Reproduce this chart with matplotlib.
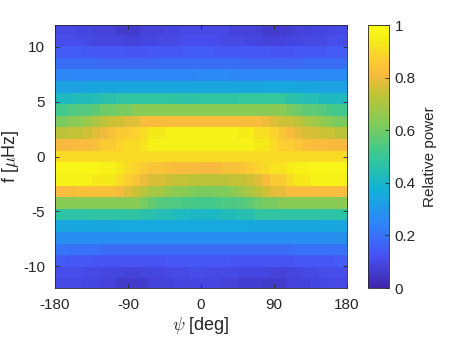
import numpy as np
import matplotlib.pyplot as plt
from matplotlib.colors import LinearSegmentedColormap

plt.rcParams['font.family'] = ['Liberation Sans', 'DejaVu Sans']
plt.rcParams['axes.unicode_minus'] = False
plt.rcParams['mathtext.fontset'] = 'cm'

# grid of the map: azimuth psi (deg) and frequency f (muHz), cell centres
psi_deg = [-180, -170, -160, -150, -140, -130, -120, -110, -100, -90, -80, -70, -60,
           -50, -40, -30, -20, -10, 0, 10, 20, 30, 40, 50, 60, 70, 80, 90, 100,
           110, 120, 130, 140, 150, 160, 170, 180]
f_uHz = [-11.66, -10.60, -9.54, -8.48, -7.42, -6.36, -5.30, -4.24, -3.18, -2.12, -1.06, 0.0,
         1.06, 2.12, 3.18, 4.24, 5.30, 6.36, 7.42, 8.48, 9.54, 10.60, 11.66]

# relative power, one row per frequency (top row first)
row_p11 = [0.10, 0.10, 0.10, 0.09, 0.09, 0.08, 0.08, 0.08, 0.06, 0.06, 0.06, 0.08, 0.08, 0.08, 0.09, 0.09, 0.10, 0.10, 0.10,
           0.10, 0.10, 0.10, 0.08, 0.08, 0.08, 0.08, 0.06, 0.06, 0.06, 0.07, 0.08, 0.08, 0.09, 0.09, 0.09, 0.10, 0.10]
row_p10 = [0.11, 0.11, 0.11, 0.11, 0.10, 0.09, 0.09, 0.09, 0.09, 0.08, 0.08, 0.09, 0.09, 0.10, 0.10, 0.10, 0.11, 0.11, 0.11,
           0.11, 0.11, 0.10, 0.10, 0.10, 0.09, 0.09, 0.08, 0.08, 0.08, 0.09, 0.09, 0.10, 0.10, 0.10, 0.11, 0.11, 0.11]
row_p9 = [0.15, 0.15, 0.15, 0.15, 0.14, 0.14, 0.14, 0.14, 0.14, 0.13, 0.13, 0.13, 0.14, 0.14, 0.14, 0.14, 0.15, 0.15, 0.15,
          0.15, 0.14, 0.14, 0.14, 0.14, 0.14, 0.14, 0.14, 0.13, 0.13, 0.13, 0.14, 0.14, 0.14, 0.14, 0.15, 0.15, 0.15]
row_p8 = [0.19, 0.19, 0.19, 0.19, 0.19, 0.19, 0.18, 0.18, 0.18, 0.18, 0.18, 0.18, 0.18, 0.19, 0.19, 0.19, 0.19, 0.19, 0.19,
          0.19, 0.19, 0.19, 0.19, 0.19, 0.18, 0.18, 0.18, 0.18, 0.18, 0.18, 0.18, 0.19, 0.19, 0.19, 0.19, 0.19, 0.19]
row_p7 = [0.25, 0.25, 0.25, 0.25, 0.25, 0.25, 0.25, 0.25, 0.25, 0.25, 0.25, 0.25, 0.25, 0.25, 0.25, 0.25, 0.25, 0.25, 0.26,
          0.26, 0.26, 0.26, 0.25, 0.25, 0.25, 0.25, 0.25, 0.25, 0.25, 0.25, 0.25, 0.25, 0.25, 0.26, 0.26, 0.26, 0.26]
row_p6 = [0.33, 0.33, 0.33, 0.33, 0.34, 0.34, 0.34, 0.34, 0.34, 0.34, 0.34, 0.34, 0.34, 0.34, 0.34, 0.34, 0.34, 0.34, 0.34,
          0.34, 0.34, 0.34, 0.34, 0.34, 0.34, 0.34, 0.35, 0.35, 0.35, 0.35, 0.34, 0.34, 0.34, 0.33, 0.33, 0.33, 0.33]
row_p5 = [0.42, 0.42, 0.42, 0.43, 0.43, 0.44, 0.46, 0.46, 0.48, 0.48, 0.48, 0.48, 0.48, 0.48, 0.48, 0.47, 0.47, 0.47, 0.48,
          0.48, 0.48, 0.48, 0.48, 0.49, 0.49, 0.49, 0.49, 0.49, 0.49, 0.46, 0.46, 0.44, 0.44, 0.42, 0.42, 0.42, 0.42]
row_p4 = [0.52, 0.52, 0.54, 0.55, 0.55, 0.57, 0.59, 0.59, 0.61, 0.61, 0.64, 0.64, 0.64, 0.64, 0.64, 0.64, 0.64, 0.64, 0.64,
          0.64, 0.64, 0.64, 0.64, 0.64, 0.64, 0.64, 0.64, 0.64, 0.64, 0.61, 0.59, 0.57, 0.57, 0.55, 0.53, 0.52, 0.52]
row_p3 = [0.61, 0.61, 0.64, 0.64, 0.67, 0.70, 0.73, 0.75, 0.76, 0.78, 0.78, 0.82, 0.82, 0.82, 0.82, 0.82, 0.82, 0.82, 0.82,
          0.82, 0.82, 0.82, 0.82, 0.82, 0.82, 0.82, 0.80, 0.78, 0.75, 0.75, 0.73, 0.70, 0.68, 0.66, 0.63, 0.61, 0.61]
row_p2 = [0.73, 0.73, 0.74, 0.74, 0.76, 0.78, 0.80, 0.83, 0.86, 0.86, 0.88, 0.90, 0.93, 0.93, 0.96, 0.96, 0.96, 0.96, 0.96,
          0.96, 0.96, 0.96, 0.96, 0.94, 0.94, 0.91, 0.91, 0.88, 0.85, 0.82, 0.79, 0.77, 0.77, 0.75, 0.75, 0.73, 0.73]
row_p1 = [0.81, 0.81, 0.81, 0.82, 0.82, 0.83, 0.86, 0.86, 0.88, 0.90, 0.90, 0.92, 0.96, 0.96, 0.96, 0.96, 0.96, 0.96, 0.96,
          0.96, 0.96, 0.96, 0.96, 0.96, 0.96, 0.93, 0.93, 0.90, 0.87, 0.87, 0.85, 0.83, 0.82, 0.82, 0.81, 0.81, 0.81]
row_0 = [0.91, 0.90, 0.90, 0.90, 0.90, 0.90, 0.90, 0.90, 0.90, 0.90, 0.90, 0.90, 0.90, 0.90, 0.90, 0.90, 0.90, 0.90, 0.90,
         0.90, 0.90, 0.90, 0.90, 0.90, 0.90, 0.90, 0.90, 0.90, 0.90, 0.90, 0.90, 0.90, 0.90, 0.90, 0.90, 0.90, 0.91]
row_m1 = [0.98, 0.98, 0.98, 0.98, 0.98, 0.98, 0.96, 0.96, 0.93, 0.90, 0.88, 0.86, 0.84, 0.84, 0.83, 0.82, 0.82, 0.82, 0.81,
          0.81, 0.81, 0.83, 0.83, 0.84, 0.86, 0.88, 0.90, 0.92, 0.92, 0.94, 0.96, 0.96, 0.98, 0.98, 0.98, 0.98, 0.98]
row_m2 = [0.96, 0.96, 0.96, 0.96, 0.96, 0.93, 0.93, 0.93, 0.90, 0.87, 0.84, 0.80, 0.77, 0.77, 0.75, 0.74, 0.74, 0.73, 0.73,
          0.73, 0.73, 0.73, 0.74, 0.74, 0.76, 0.78, 0.82, 0.86, 0.86, 0.90, 0.93, 0.93, 0.96, 0.96, 0.96, 0.96, 0.96]
row_m3 = [0.82, 0.82, 0.82, 0.83, 0.83, 0.83, 0.83, 0.83, 0.81, 0.78, 0.75, 0.72, 0.69, 0.69, 0.66, 0.64, 0.64, 0.62, 0.61,
          0.61, 0.62, 0.62, 0.64, 0.67, 0.70, 0.73, 0.76, 0.79, 0.79, 0.82, 0.82, 0.82, 0.82, 0.82, 0.82, 0.82, 0.82]
row_m4 = [0.64, 0.64, 0.64, 0.64, 0.64, 0.64, 0.64, 0.64, 0.64, 0.64, 0.64, 0.61, 0.58, 0.55, 0.55, 0.54, 0.53, 0.53, 0.52,
          0.52, 0.53, 0.54, 0.54, 0.55, 0.57, 0.59, 0.61, 0.61, 0.64, 0.64, 0.64, 0.64, 0.64, 0.64, 0.64, 0.64, 0.64]
row_m5 = [0.47, 0.47, 0.47, 0.47, 0.47, 0.48, 0.48, 0.48, 0.48, 0.48, 0.48, 0.46, 0.46, 0.44, 0.44, 0.42, 0.42, 0.41, 0.41,
          0.41, 0.41, 0.43, 0.43, 0.45, 0.45, 0.48, 0.48, 0.48, 0.48, 0.48, 0.48, 0.48, 0.48, 0.47, 0.47, 0.47, 0.47]
row_m6 = [0.34, 0.34, 0.34, 0.34, 0.34, 0.34, 0.34, 0.34, 0.35, 0.35, 0.35, 0.35, 0.35, 0.35, 0.35, 0.35, 0.35, 0.35, 0.35,
          0.35, 0.35, 0.35, 0.35, 0.35, 0.35, 0.34, 0.34, 0.34, 0.34, 0.34, 0.34, 0.34, 0.34, 0.34, 0.34, 0.34, 0.34]
row_m7 = [0.27, 0.27, 0.27, 0.27, 0.27, 0.27, 0.27, 0.27, 0.27, 0.27, 0.27, 0.27, 0.27, 0.27, 0.27, 0.27, 0.27, 0.27, 0.27,
          0.27, 0.27, 0.27, 0.27, 0.27, 0.27, 0.27, 0.27, 0.27, 0.27, 0.27, 0.27, 0.27, 0.27, 0.28, 0.28, 0.28, 0.28]
row_m8 = [0.21, 0.21, 0.20, 0.20, 0.20, 0.20, 0.19, 0.19, 0.19, 0.19, 0.19, 0.19, 0.19, 0.19, 0.19, 0.19, 0.19, 0.19, 0.19,
          0.19, 0.19, 0.19, 0.19, 0.19, 0.19, 0.19, 0.19, 0.19, 0.19, 0.19, 0.20, 0.20, 0.20, 0.20, 0.20, 0.20, 0.20]
row_m9 = [0.15, 0.15, 0.14, 0.14, 0.14, 0.13, 0.13, 0.13, 0.13, 0.13, 0.13, 0.13, 0.13, 0.13, 0.14, 0.14, 0.14, 0.14, 0.14,
          0.14, 0.14, 0.14, 0.13, 0.13, 0.13, 0.13, 0.13, 0.13, 0.13, 0.13, 0.14, 0.14, 0.14, 0.14, 0.14, 0.15, 0.15]
row_m10 = [0.11, 0.11, 0.11, 0.11, 0.10, 0.10, 0.09, 0.09, 0.09, 0.08, 0.08, 0.09, 0.09, 0.09, 0.10, 0.10, 0.10, 0.11, 0.11,
           0.10, 0.10, 0.10, 0.10, 0.09, 0.09, 0.09, 0.09, 0.08, 0.08, 0.09, 0.09, 0.10, 0.10, 0.11, 0.11, 0.11, 0.11]
row_m11 = [0.10, 0.10, 0.10, 0.10, 0.09, 0.09, 0.08, 0.08, 0.06, 0.06, 0.06, 0.06, 0.08, 0.08, 0.08, 0.09, 0.09, 0.09, 0.09,
           0.09, 0.09, 0.08, 0.08, 0.07, 0.07, 0.07, 0.06, 0.06, 0.06, 0.08, 0.08, 0.08, 0.09, 0.09, 0.10, 0.10, 0.10]

power = np.array([row_m11, row_m10, row_m9, row_m8, row_m7, row_m6, row_m5, row_m4, row_m3, row_m2, row_m1, row_0,
                  row_p1, row_p2, row_p3, row_p4, row_p5, row_p6, row_p7, row_p8, row_p9, row_p10, row_p11])

# MATLAB-like parula colormap
parula_pts = [
    (0.000, (0.2422, 0.1504, 0.6603)),
    (0.125, (0.2810, 0.3228, 0.9579)),
    (0.250, (0.1786, 0.5289, 0.9682)),
    (0.375, (0.0689, 0.6948, 0.8394)),
    (0.500, (0.2161, 0.7843, 0.5923)),
    (0.625, (0.5044, 0.7993, 0.3480)),
    (0.750, (0.7829, 0.7582, 0.2012)),
    (0.8125, (0.9728, 0.7288, 0.2470)),
    (0.875, (0.9892, 0.8136, 0.1885)),
    (0.9375, (0.9598, 0.9218, 0.0948)),
    (1.000, (0.9769, 0.9839, 0.0805)),
]
parula = LinearSegmentedColormap.from_list('parula', parula_pts)

fig = plt.figure(figsize=(4.49, 3.37), dpi=100)
ax = fig.add_axes([0.1225, 0.1454, 0.6505, 0.7804])
mesh = ax.pcolormesh(psi_deg, f_uHz, power, cmap=parula, vmin=0, vmax=1, shading='nearest')
ax.set_xlim(-180, 180)
ax.set_ylim(-12, 12)
ax.set_xticks([-180, -90, 0, 90, 180])
ax.set_yticks([-10, -5, 0, 5, 10])
ax.tick_params(direction='in', length=3, width=0.6, top=True, right=True,
               labelsize=11, colors='0.15')
ax.tick_params(axis='x', pad=7)
ax.tick_params(axis='y', pad=7)
for sp in ax.spines.values():
    sp.set_color('0.15')
    sp.set_linewidth(0.6)
ax.set_xlabel(r'$\psi$ [deg]', fontsize=13, color='0.15', labelpad=2)
ax.set_ylabel(r'f [$\mu$Hz]', fontsize=13, color='0.15', labelpad=2)

cax = fig.add_axes([0.8196, 0.1454, 0.0468, 0.7804])
cb = fig.colorbar(mesh, cax=cax, ticks=[0, 0.2, 0.4, 0.6, 0.8, 1])
cb.ax.set_yticklabels(['0', '0.2', '0.4', '0.6', '0.8', '1'])
cb.ax.tick_params(direction='in', length=3, width=0.6, labelsize=11, colors='0.15', pad=4)
cb.outline.set_edgecolor('0.15')
cb.outline.set_linewidth(0.6)
cb.set_label('Relative power', fontsize=11, color='0.15', labelpad=5)

fig.savefig('out.png', dpi=100)
